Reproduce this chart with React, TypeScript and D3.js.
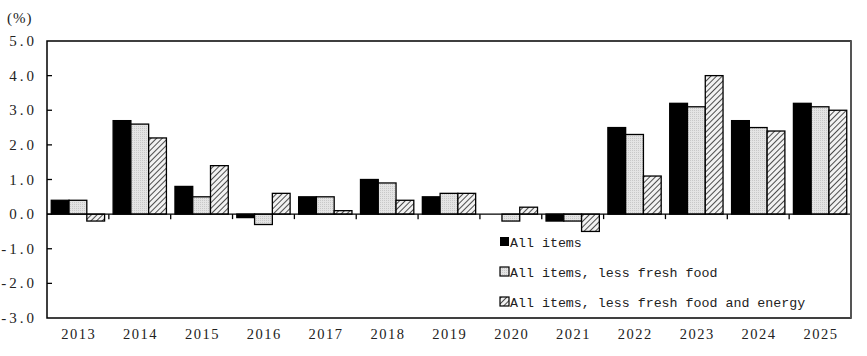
import React from "react";
import * as d3 from "d3";

const years = ["2013","2014","2015","2016","2017","2018","2019","2020","2021","2022","2023","2024","2025"];
const allItems = [0.4, 2.7, 0.8, -0.1, 0.5, 1.0, 0.5, 0.0, -0.2, 2.5, 3.2, 2.7, 3.2];
const lessFresh = [0.4, 2.6, 0.5, -0.3, 0.5, 0.9, 0.6, -0.2, -0.2, 2.3, 3.1, 2.5, 3.1];
const lessFreshEnergy = [-0.2, 2.2, 1.4, 0.6, 0.1, 0.4, 0.6, 0.2, -0.5, 1.1, 4.0, 2.4, 3.0];
const seriesNames = ["All items", "All items, less fresh food", "All items, less fresh food and energy"];
const yTicks = [5, 4, 3, 2, 1, 0, -1, -2, -3];

const W = 867, H = 356;
const M = { left: 47, right: 851, top: 41, bottom: 318 };
const MONO = "'Liberation Mono', monospace";
const SERIF = "'Liberation Serif', serif";
const fills = ["#000000", "url(#dots)", "url(#hatch)"];

export default function App() {
  const x = d3.scaleBand<string>().domain(years).range([M.left, M.right]).paddingInner(0).paddingOuter(0);
  const inner = d3.scaleBand<number>().domain([0, 1, 2]).range([0, x.bandwidth()]).paddingOuter(0.24).paddingInner(0);
  const y = d3.scaleLinear().domain([-3, 5]).range([M.bottom, M.top]);
  const series = [allItems, lessFresh, lessFreshEnergy];
  const y0 = y(0);

  return (
    <svg width={W} height={H} style={{ display: "block", position: "absolute", left: 0, top: 0 }}>
      <defs>
        <pattern id="hatch" patternUnits="userSpaceOnUse" width="4" height="4" patternTransform="rotate(45)">
          <rect width="4" height="4" fill="#f2f2f2" />
          <line x1="0" y1="0" x2="0" y2="4" stroke="#222" strokeWidth="1.6" />
        </pattern>
        <pattern id="dots" patternUnits="userSpaceOnUse" width="2" height="2">
          <rect width="2" height="2" fill="#e4e4e4" />
          <rect width="1" height="1" fill="#c8c8c8" />
        </pattern>
      </defs>
      <rect x={0} y={0} width={W} height={H} fill="#fff" />
      {years.map((yr, i) =>
        series.map((s, k) => {
          const v = s[i];
          if (v === 0) return null;
          const bx = (x(yr) as number) + (inner(k) as number);
          const top = Math.min(y(v), y0);
          const h = Math.abs(y(v) - y0);
          return (
            <rect key={yr + k} x={bx} y={top} width={inner.bandwidth()} height={h}
              fill={fills[k]} stroke="#000" strokeWidth={1.3} />
          );
        })
      )}
      <line x1={M.left} x2={M.right} y1={y0} y2={y0} stroke="#000" strokeWidth={1.3} />
      {years.slice(1).map((yr) => (
        <line key={"xt" + yr} x1={x(yr)} x2={x(yr)} y1={y0} y2={y0 + 5} stroke="#000" strokeWidth={1.3} />
      ))}
      {yTicks.map((t) => (
        <g key={"yt" + t}>
          {t !== 5 && t !== -3 && (
            <line x1={M.left} x2={M.left + 5} y1={y(t)} y2={y(t)} stroke="#000" strokeWidth={1.3} />
          )}
          <text x={37} y={y(t) + 5} textAnchor="end" fontFamily={SERIF} fontSize={15} letterSpacing={3} fill="#222">
            {t.toFixed(1)}
          </text>
        </g>
      ))}
      <rect x={M.left} y={M.top} width={M.right - M.left} height={M.bottom - M.top} fill="none" stroke="#000" strokeWidth={1.5} />
      <line x1={M.right} x2={M.right} y1={M.top} y2={M.bottom} stroke="#555" strokeWidth={2} />
      {years.map((yr) => (
        <text key={"xl" + yr} x={(x(yr) as number) + x.bandwidth() / 2 + 0.8} y={339} textAnchor="middle"
          fontFamily={SERIF} fontSize={14.5} letterSpacing={1.5} fill="#222">{yr}</text>
      ))}
      <text x={7} y={23} fontFamily={SERIF} fontSize={15} letterSpacing={1} fill="#222">(%)</text>
      {seriesNames.map((n, k) => (
        <g key={"lg" + k}>
          <rect x={500} y={237 + k * 30} width={9} height={9} fill={fills[k]} stroke="#000" strokeWidth={k === 0 ? 0 : 1.2} />
          <text x={510} y={246.5 + k * 30} fontFamily={MONO} fontSize={13.3} fill="#222">{n}</text>
        </g>
      ))}
    </svg>
  );
}
